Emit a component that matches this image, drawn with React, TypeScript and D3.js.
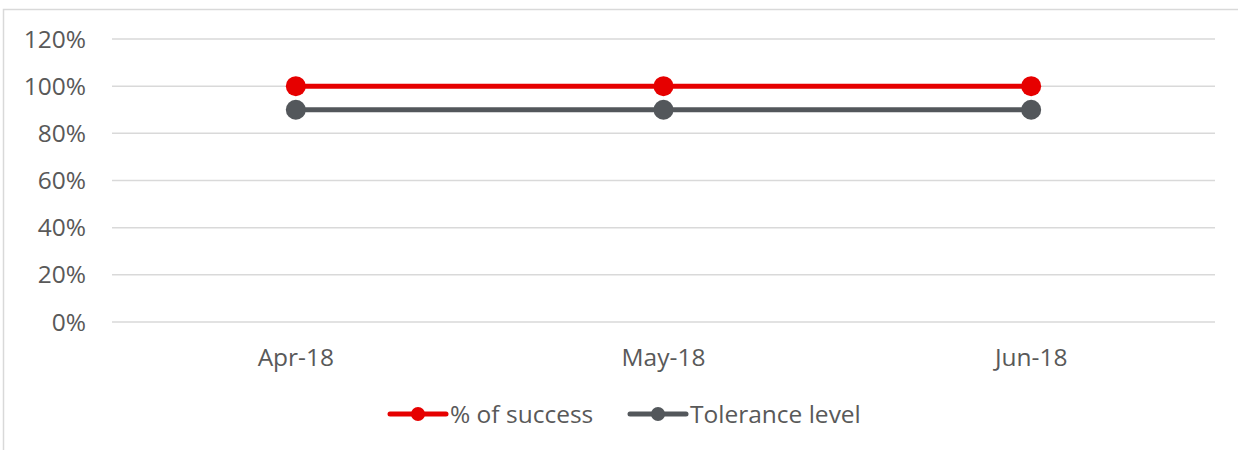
import React from "react";
import * as d3 from "d3";

const categories = ["Apr-18", "May-18", "Jun-18"];
const successValues = [1.0, 1.0, 1.0];
const toleranceValues = [0.9, 0.9, 0.9];
const yTicks = [0, 0.2, 0.4, 0.6, 0.8, 1.0, 1.2];
const seriesNames = ["% of success", "Tolerance level"];

const W = 1238;
const H = 450;
const FONT = "'Open Sans', sans-serif";
const FS = 24.5;
const RED = "#E60000";
const GREY = "#53575B";

export default function App() {
  const x = d3.scaleBand<string>().domain(categories).range([112, 1215]);
  const y = d3.scaleLinear().domain([0, 1.2]).range([322, 39]);
  const cx = (c: string) => (x(c) as number) + x.bandwidth() / 2;
  const line = d3
    .line<number>()
    .x((_, i) => cx(categories[i]))
    .y((d) => y(d));
  const series = [
    { name: seriesNames[0], values: successValues, color: RED },
    { name: seriesNames[1], values: toleranceValues, color: GREY },
  ];
  const legendX = [390, 630];
  return (
    <svg
      width={W}
      height={H}
      style={{ position: "absolute", left: 0, top: 0 }}
    >
      <rect x={0} y={0} width={W} height={H} fill="#fff" />
      <rect
        x={3.5}
        y={9.5}
        width={W}
        height={H}
        fill="none"
        stroke="#D9D9D9"
        strokeWidth={1.5}
      />
      {yTicks.map((t) => (
        <g key={t}>
          <line
            x1={112}
            x2={1215}
            y1={y(t)}
            y2={y(t)}
            stroke="#D9D9D9"
            strokeWidth={1.5}
          />
          <text
            x={86}
            y={y(t)}
            dy="0.35em"
            textAnchor="end"
            fontFamily={FONT}
            fontSize={FS}
            fill="#595959"
          >
            {d3.format(".0%")(t)}
          </text>
        </g>
      ))}
      {categories.map((c) => (
        <text
          key={c}
          x={cx(c)}
          y={357}
          dy="0.35em"
          textAnchor="middle"
          fontFamily={FONT}
          fontSize={FS}
          fill="#595959"
        >
          {c}
        </text>
      ))}
      {series.map((s) => (
        <g key={s.name}>
          <path
            d={line(s.values) as string}
            fill="none"
            stroke={s.color}
            strokeWidth={5}
          />
          {s.values.map((v, i) => (
            <circle
              key={i}
              cx={cx(categories[i])}
              cy={y(v)}
              r={10}
              fill={s.color}
            />
          ))}
        </g>
      ))}
      {series.map((s, i) => (
        <g key={s.name} transform={`translate(${legendX[i]},414)`}>
          <line
            x1={0}
            x2={56}
            y1={0}
            y2={0}
            stroke={s.color}
            strokeWidth={5}
            strokeLinecap="round"
          />
          <circle cx={28} cy={0} r={7} fill={s.color} />
          <text
            x={60}
            y={0}
            dy="0.35em"
            fontFamily={FONT}
            fontSize={FS}
            fill="#595959"
          >
            {s.name}
          </text>
        </g>
      ))}
    </svg>
  );
}
